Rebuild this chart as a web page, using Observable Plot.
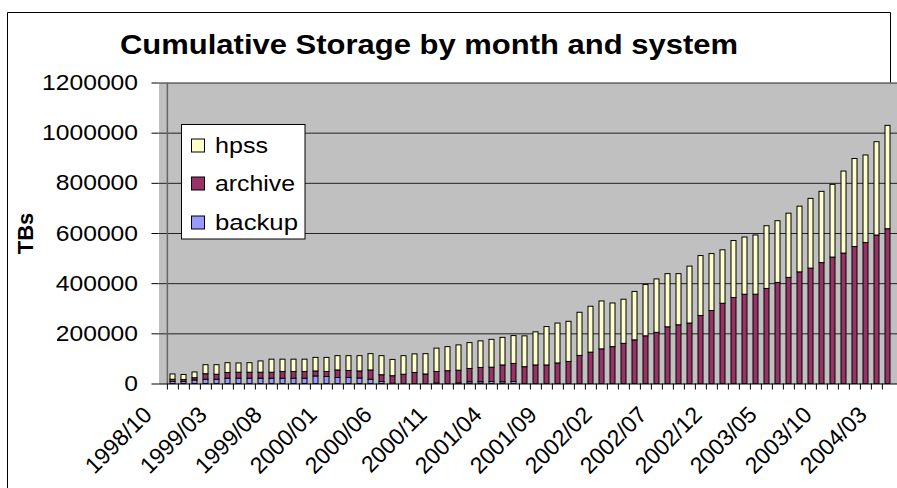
<!DOCTYPE html>
<html><head><meta charset="utf-8">
<script src="https://cdn.jsdelivr.net/npm/d3@7"></script>
<script src="https://cdn.jsdelivr.net/npm/@observablehq/plot@0.6"></script>
<style>html,body{margin:0;padding:0;background:#fff;overflow:hidden}</style>
</head><body><div id="chart"></div>
<script>
const months = [
"1998/10","1998/11","1998/12",
"1999/01","1999/02","1999/03","1999/04","1999/05","1999/06","1999/07","1999/08","1999/09","1999/10","1999/11","1999/12",
"2000/01","2000/02","2000/03","2000/04","2000/05","2000/06","2000/07","2000/08","2000/09","2000/10","2000/11","2000/12",
"2001/01","2001/02","2001/03","2001/04","2001/05","2001/06","2001/07","2001/08","2001/09","2001/10","2001/11","2001/12",
"2002/01","2002/02","2002/03","2002/04","2002/05","2002/06","2002/07","2002/08","2002/09","2002/10","2002/11","2002/12",
"2003/01","2003/02","2003/03","2003/04","2003/05","2003/06","2003/07","2003/08","2003/09","2003/10","2003/11","2003/12",
"2004/01","2004/02","2004/03"];
const tickLabels = ["1998/10","1999/03","1999/08","2000/01","2000/06","2000/11","2001/04","2001/09","2002/02","2002/07","2002/12","2003/05","2003/10","2004/03"];
const backup = [8000,8000,14000,17000,17000,21000,21000,21000,21000,21000,21000,21000,21000,30000,28000,24000,24000,22000,17000,8000,1000,0,0,0,2000,0,2000,7000,7000,8000,7000,8000,0,0,0,0,0,0,0,0,0,0,0,0,0,0,0,0,0,0,0,0,0,0,0,0,0,0,0,0,0,0,0,0,0,0];
const archive = [9000,8000,9000,22000,20000,23000,24000,24000,24000,24000,27000,27000,27000,20000,20000,30000,28000,28000,37000,27000,30000,37000,44000,38000,46000,51000,51000,53000,57000,57000,67000,72000,67000,74000,74000,82000,88000,112000,125000,138000,147000,160000,174000,190000,204000,226000,234000,241000,271000,291000,320000,343000,356000,356000,379000,403000,423000,445000,460000,482000,504000,520000,546000,562000,592000,617000];
const hpss = [21000,20000,23000,36000,38000,39000,37000,38000,45000,52000,49000,49000,49000,54000,56000,57000,59000,61000,65000,76000,65000,74000,74000,81000,93000,96000,101000,103000,106000,111000,110000,111000,123000,132000,153000,159000,160000,172000,183000,191000,174000,176000,193000,205000,213000,212000,204000,227000,239000,227000,213000,227000,228000,236000,250000,246000,256000,262000,278000,284000,290000,327000,351000,349000,372000,412000];
const systems = ["backup","archive","hpss"];
const colors = ["#9999FF","#993366","#FFFFCC"];
const legendOrder = ["hpss","archive","backup"];
const yTicks = [0,200000,400000,600000,800000,1000000,1200000];

const seriesValues = {backup, archive, hpss};
const rows = [];
months.forEach((m, i) => {
  for (const s of systems) {
    const v = seriesValues[s][i];
    if (v > 0) rows.push({month: m, system: s, value: v});
  }
});

const W = 897, H = 488;
const L = 158.5, T = 82.5, B = 383.5;
const step = 11.25;
const font = "'Liberation Sans', Arial, sans-serif";

const chart = Plot.plot({
  width: W, height: H,
  marginLeft: L, marginTop: T, marginBottom: H - B, marginRight: 0,
  style: {fontFamily: font, background: "transparent", overflow: "visible"},
  x: {domain: months, range: [L, L + step * months.length], paddingInner: 0.55, paddingOuter: 0.275, axis: null},
  y: {domain: [0, 1200000], axis: null},
  color: {domain: systems, range: colors},
  marks: [
    Plot.frame({fill: "#c0c0c0", stroke: null}),
    Plot.ruleY(yTicks.filter(d => d > 0), {stroke: "#222", strokeWidth: 1}),
    Plot.ruleX([months[0]], {x: d => d, dx: -step / 2, y1: 0, y2: 1200000, stroke: "#666", strokeWidth: 1.5}),
    Plot.barY(rows, {x: "month", y: "value", fill: "system", stroke: "#000", strokeWidth: 1, order: systems}),
    Plot.ruleY([0], {stroke: "#000", strokeWidth: 1}),
    Plot.ruleX(months, {x: d => d, dx: -step / 2, y1: 0, y2: -24000, stroke: "#000", strokeWidth: 1}),
    Plot.axisY({ticks: yTicks, tickFormat: d => String(d), tickSize: 7, tickPadding: 14, fontSize: 22, anchor: "left", label: null}),
    Plot.text(tickLabels, {x: d => d, y: 0, text: d => d, rotate: -45, textAnchor: "end", lineAnchor: "middle", dx: -25, dy: 27, fontSize: 23}),
    Plot.text(["TBs"], {frameAnchor: "left", text: d => d, rotate: -90, textAnchor: "middle", lineAnchor: "middle", dx: -133, fontSize: 22, fontWeight: "bold"})
  ]
});
document.getElementById("chart").appendChild(chart);

const svg = d3.select(chart);
// stretch y tick labels horizontally
svg.selectAll("g[aria-label='y-axis tick label'] text").each(function() {
  const w = this.getComputedTextLength();
  this.setAttribute("textLength", w * 1.12);
  this.setAttribute("lengthAdjust", "spacingAndGlyphs");
});

// outer chart border
svg.insert("path", ":first-child")
  .attr("d", `M7.5,488 V12.5 H890.5 V${T}`)
  .attr("fill", "none").attr("stroke", "#000").attr("stroke-width", 1);

// title
svg.append("text")
  .attr("x", 429).attr("y", 54)
  .attr("text-anchor", "middle")
  .attr("font-family", font).attr("font-weight", "bold").attr("font-size", 27)
  .attr("textLength", 618).attr("lengthAdjust", "spacingAndGlyphs")
  .text("Cumulative Storage by month and system");

// legend
const lg = svg.append("g").attr("text-anchor", "start");
lg.append("rect").attr("x", 181.5).attr("y", 124.5).attr("width", 123.5).attr("height", 114.5)
  .attr("fill", "#fff").attr("stroke", "#000");
const ly = [145.5, 183.5, 222.5];
const lw = {hpss: 53, archive: 80, backup: 83};
legendOrder.forEach((s, i) => {
  lg.append("rect").attr("x", 191.5).attr("y", ly[i] - 6.5).attr("width", 13).attr("height", 13)
    .attr("fill", colors[systems.indexOf(s)]).attr("stroke", "#000");
  lg.append("text").attr("x", 215).attr("y", ly[i] + 7.5)
    .attr("text-anchor", "start")
    .attr("font-family", font).attr("font-size", 22)
    .attr("textLength", lw[s]).attr("lengthAdjust", "spacingAndGlyphs")
    .text(s);
});
</script></body></html>
